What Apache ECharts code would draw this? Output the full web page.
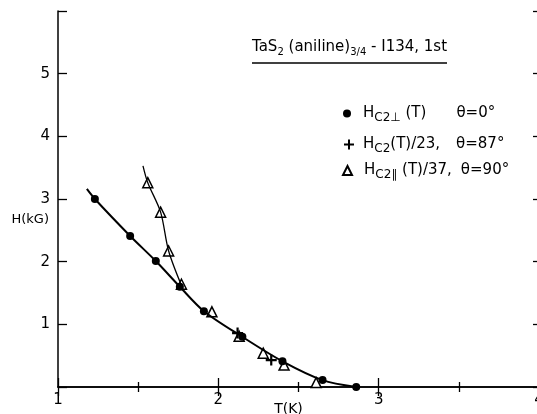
<!DOCTYPE html>
<html>
<head>
<meta charset="utf-8">
<script src="https://cdn.jsdelivr.net/npm/echarts@6/dist/echarts.min.js"></script>
<style>
  html, body { margin: 0; padding: 0; background: #fff; }
  #chart { width: 537px; height: 414px; }
</style>
</head>
<body>
<div id="chart"></div>
<script>
// Hc2 perpendicular, theta = 0
const perpT = [1.23, 1.45, 1.61, 1.76, 1.91, 2.15, 2.40, 2.65, 2.86]
const perpH = [3.00, 2.41, 2.01, 1.60, 1.21, 0.80, 0.41, 0.11, 0.00]
// Hc2 / 23, theta = 87
const tiltT = [2.12, 2.33]
const tiltH = [0.86, 0.43]
// Hc2 parallel / 37, theta = 90
const parT = [1.56, 1.64, 1.69, 1.77, 1.96, 2.13, 2.28, 2.41, 2.61]
const parH = [3.26, 2.79, 2.17, 1.64, 1.20, 0.81, 0.54, 0.35, 0.07]
// hand-drawn guide curves
const fitT = [1.18, 1.23, 1.45, 1.61, 1.76, 1.91, 2.15, 2.40, 2.65, 2.86]
const fitH = [3.16, 3.00, 2.41, 2.01, 1.60, 1.21, 0.80, 0.41, 0.11, 0.00]
const parFitT = [1.53, 1.56, 1.64, 1.69, 1.77]
const parFitH = [3.53, 3.26, 2.79, 2.17, 1.62]
const xTicks = [1, 2, 3, 4]
const yTicks = [1, 2, 3, 4, 5]

const FONT = '"DejaVu Sans", Lato, sans-serif'
const zip = (a, b) => a.map((v, i) => [v, b[i]])
const PLUS = 'path://M4,0H6V4H10V6H6V10H4V6H0V4H4Z'

const rich = {
  m: { fontSize: 15, fontFamily: FONT, color: '#000', lineHeight: 20, verticalAlign: 'middle' },
  s: { fontSize: 12, fontFamily: FONT, color: '#000', lineHeight: 12, verticalAlign: 'bottom' },
  g1: { width: 30 },
  g2: { width: 16 },
  g3: { width: 9 }
}

const chart = echarts.init(document.getElementById('chart'))

const axisLine = { show: true, lineStyle: { color: '#000', width: 1.5 } }
const tick = len => ({ show: true, inside: true, length: len, lineStyle: { color: '#000', width: 1.3 } })

chart.setOption({
  animation: false,
  backgroundColor: '#fff',
  grid: { left: 58, right: -2, top: 11, bottom: 27, outerBoundsMode: 'none', containLabel: false },
  xAxis: [
    {
      type: 'value', position: 'bottom', min: 1, max: 4, interval: 1,
      axisLine, axisTick: tick(9),
      minorTick: { show: true, splitNumber: 2, length: 5, lineStyle: { color: '#000', width: 1.3 } },
      splitLine: { show: false },
      axisLabel: {
        color: '#000', fontSize: 15, fontFamily: FONT, margin: 6,
        formatter: v => (xTicks.includes(v) ? String(v) : '')
      },
      name: 'T(K)', nameLocation: 'middle', nameGap: 15, nameMoveOverlap: false,
      nameTextStyle: { color: '#000', fontSize: 14, fontFamily: FONT, verticalAlign: 'top', padding: [0, 20, 0, 0] }
    },
    {
      type: 'value', position: 'top', min: 1, max: 4, interval: 1,
      axisLine, axisTick: tick(9),
      minorTick: { show: true, splitNumber: 2, length: 5, lineStyle: { color: '#000', width: 1.3 } },
      splitLine: { show: false }, axisLabel: { show: false }
    }
  ],
  yAxis: [
    {
      type: 'value', position: 'left', min: 0, max: 6, interval: 1,
      axisLine, axisTick: tick(9), splitLine: { show: false },
      axisLabel: {
        color: '#000', fontSize: 15, fontFamily: FONT, margin: 8,
        formatter: v => (yTicks.includes(v) ? String(v) : '')
      },
      name: 'H(kG)', nameLocation: 'middle', nameRotate: 0, nameGap: 9, nameMoveOverlap: false,
      nameTextStyle: { color: '#000', fontSize: 13, fontFamily: FONT, verticalAlign: 'top', padding: [14, 0, 0, 0] }
    },
    {
      type: 'value', position: 'right', min: 0, max: 6, interval: 1,
      axisLine, axisTick: tick(6), splitLine: { show: false }, axisLabel: { show: false }
    }
  ],
  legend: [
    {
      left: 343, top: 106, padding: 0, itemWidth: 8, itemHeight: 8,
      data: ['perp'], selectedMode: false,
      textStyle: { rich, padding: [0, 0, 0, 7] },
      formatter: () => '{m|H}{s|C2⊥}{m| (T)}{g1|}{m|θ=0°}'
    },
    {
      left: 344, top: 137, padding: 0, itemWidth: 10, itemHeight: 10,
      data: ['tilt'], selectedMode: false,
      textStyle: { rich, padding: [0, 0, 0, 4] },
      formatter: () => '{m|H}{s|C2}{m|(T)/23,}{g2|}{m|θ=87°}'
    },
    {
      left: 342, top: 163, padding: 0, itemWidth: 9, itemHeight: 9,
      data: ['par'], selectedMode: false,
      textStyle: { rich, padding: [0, 0, 0, 7] },
      formatter: () => '{m|H}{s|C2∥}{m| (T)/37,}{g3|}{m|θ=90°}'
    }
  ],
  graphic: [
    {
      type: 'text', left: 252, top: 40,
      style: {
        text: '{m|TaS}{s|2}{m| (aniline)}{s|3/4}{m| - I134, 1st}',
        rich: {
          m: { fontSize: 15, fontFamily: FONT, fill: '#000', lineHeight: 20, verticalAlign: 'middle' },
          s: { fontSize: 10, fontFamily: FONT, fill: '#000', lineHeight: 11, verticalAlign: 'bottom' }
        }
      }
    },
    {
      type: 'line', shape: { x1: 252, y1: 63, x2: 447, y2: 63 },
      style: { stroke: '#000', lineWidth: 1.5 }
    }
  ],
  series: [
    {
      name: 'fit', type: 'line', data: zip(fitT, fitH), smooth: 0.3,
      symbol: 'none', lineStyle: { color: '#000', width: 2 }, silent: true
    },
    {
      name: 'parFit', type: 'line', data: zip(parFitT, parFitH), smooth: 0.3,
      symbol: 'none', lineStyle: { color: '#000', width: 1.3 }, silent: true
    },
    {
      name: 'par', type: 'scatter', data: zip(parT, parH), symbol: 'triangle', symbolSize: 10,
      itemStyle: { color: '#fff', borderColor: '#000', borderWidth: 1.5, opacity: 1 }
    },
    {
      name: 'tilt', type: 'scatter', data: zip(tiltT, tiltH), symbol: PLUS, symbolSize: 11,
      itemStyle: { color: '#000', opacity: 1 }
    },
    {
      name: 'perp', type: 'scatter', data: zip(perpT, perpH), symbol: 'circle', symbolSize: 8,
      itemStyle: { color: '#000', opacity: 1 }
    }
  ]
})
</script>
</body>
</html>
